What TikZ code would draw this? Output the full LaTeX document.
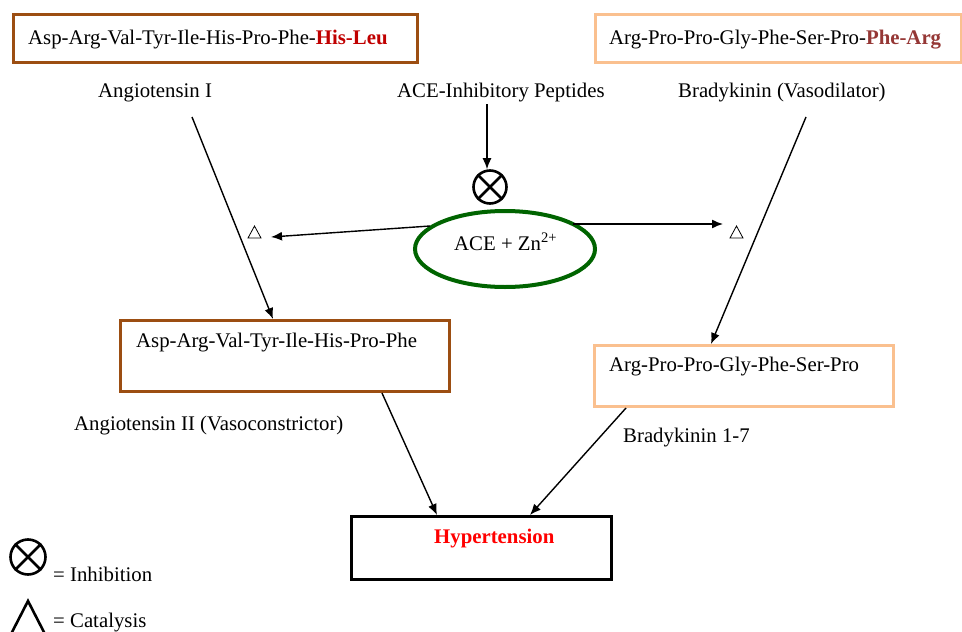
\documentclass[tikz,border=0pt]{standalone}
\usepackage{fontspec}
\setmainfont{Liberation Serif}
\usetikzlibrary{arrows.meta,shapes.geometric}
\definecolor{brownb}{RGB}{156,78,18}
\definecolor{orangeb}{RGB}{250,192,143}
\definecolor{redA}{RGB}{192,0,0}
\definecolor{redB}{RGB}{149,55,53}
\definecolor{greenE}{RGB}{0,100,0}
\begin{document}
\begin{tikzpicture}[x=1pt,y=-1pt,font=\fontsize{20.8}{24}\selectfont,
  brownbox/.style={draw=brownb,line width=3,anchor=north west,inner sep=0},
  orangebox/.style={draw=orangeb,line width=3,anchor=north west,inner sep=0},
  lbl/.style={anchor=base west,inner sep=0},
  arr/.style={line width=1.4,-{Latex[length=11,width=9]}},
  inhib/.style={circle,draw,line width=2.6,minimum size=33,inner sep=0},
  tri/.style={line width=0.8}]
\useasboundingbox (0,0) rectangle (962,632);
% top boxes
\node[brownbox,minimum width=404,minimum height=48] (b1) at (12,13) {};
\node[lbl] (b1t) at (28,44) {Asp-Arg-Val-Tyr-Ile-His-Pro-Phe-\textcolor{redA}{\textbf{His-Leu}}};
\node[orangebox,minimum width=366,minimum height=48] (b2) at (594,13) {};
\node[lbl] (b2t) at (609,44) {Arg-Pro-Pro-Gly-Phe-Ser-Pro-\textcolor{redB}{\textbf{Phe-Arg}}};
% labels
\node[lbl] (angI) at (98,97) {Angiotensin I};
\node[lbl] (pep) at (397,97) {ACE-Inhibitory Peptides};
\node[lbl] (brad) at (678,97) {Bradykinin (Vasodilator)};
% inhibition symbol
\node[inhib] (inh) at (490,187) {};
\draw[line width=2.6] (inh.north west) -- (inh.south east) (inh.north east) -- (inh.south west);
\coordinate (pepS) at (487,104);
\draw[arr] (pepS) -- (inh.north -| pepS);
% ACE ellipse
\node[ellipse,draw=greenE,line width=4,minimum width=180,minimum height=76,inner sep=0] (ace) at (505,249) {};
\node[lbl] (acet) at (454,250) {ACE + Zn\textsuperscript{2+}};
\coordinate (aceL) at (430,226);
\coordinate (aceR) at (573,224);
\coordinate (tipL) at (271,237);
\coordinate (tipR) at (723,224);
\draw[arr] (aceL) -- (tipL);
\draw[arr] (aceR) -- (tipR);
% catalysis triangles
\draw[tri] (248,238) -- (254.5,226) -- (261,238) -- cycle;
\draw[tri] (730,238) -- (736.5,226) -- (743,238) -- cycle;
% middle boxes
\node[brownbox,minimum width=329,minimum height=71] (b3) at (119,319) {};
\node[lbl] (b3t) at (136,347) {Asp-Arg-Val-Tyr-Ile-His-Pro-Phe};
\node[orangebox,minimum width=299,minimum height=61] (b4) at (593,344) {};
\node[lbl] (b4t) at (609,371) {Arg-Pro-Pro-Gly-Phe-Ser-Pro};
\coordinate (angIs) at (192,117);
\coordinate (bradS) at (806,117);
\draw[arr] (angIs) -- (b3.north -| 273,0);
\draw[arr] (bradS) -- (b4.north -| 711,0);
\node[lbl] (angII) at (74,430) {Angiotensin II (Vasoconstrictor)};
\node[lbl] (b17) at (623,442) {Bradykinin 1-7};
% hypertension
\node[draw,line width=3,anchor=north west,inner sep=0,minimum width=260,minimum height=63] (hyp) at (350,515) {};
\node[lbl] (hypt) at (434,543) {\textcolor{red}{\textbf{Hypertension}}};
\draw[arr] (b3.south -| 382,0) -- (hyp.north -| 437,0);
\draw[arr] (b4.south -| 626,0) -- (hyp.north -| 530,0);
% legend
\node[inhib,minimum size=35] (leg1) at (28,557) {};
\draw[line width=2.6] (leg1.north west) -- (leg1.south east) (leg1.north east) -- (leg1.south west);
\node[lbl] (leg1t) at (53,581) {= Inhibition};
\draw[line width=2.6,line join=miter] (9,638) -- (28,601) -- (47,638);
\node[lbl] (leg2t) at (53,627) {= Catalysis};
\end{tikzpicture}
\end{document}
